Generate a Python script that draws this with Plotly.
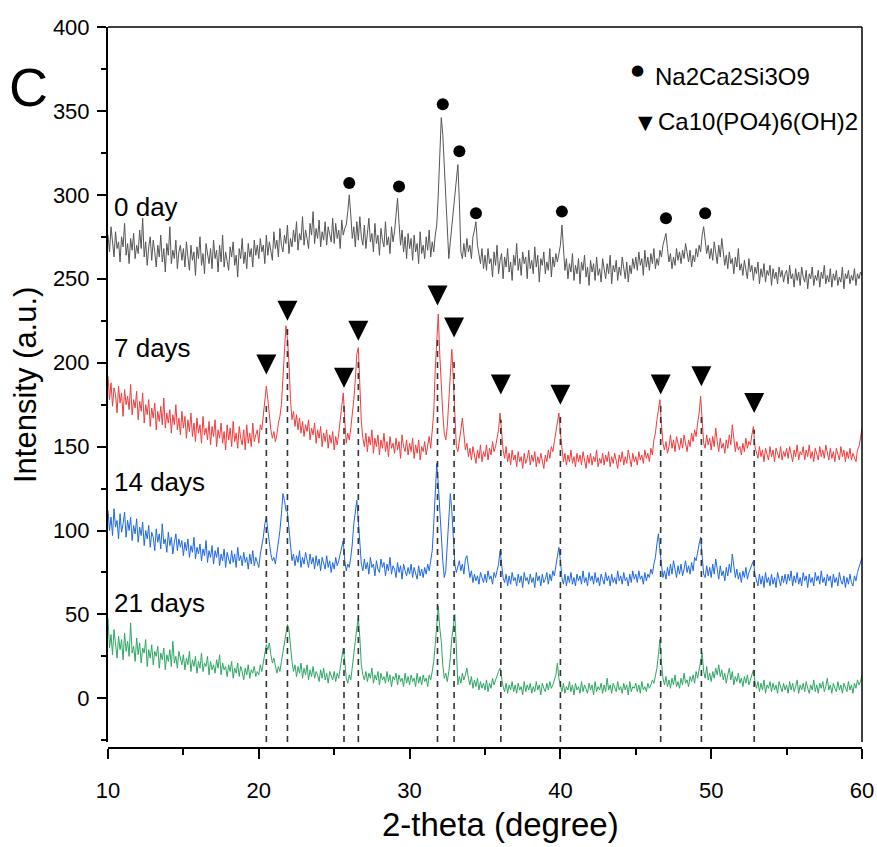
import numpy as np
import plotly.graph_objects as go

# 2-theta scan grid (degree), 0.1 step
two_theta = np.round(np.arange(10.0, 60.0001, 0.1), 1)

day0 = [
 276,266,281,270,263,278,268,272,260,275, 269,283,264,271,259,274,267,277,262,270, 265,279,268,286,263,272,258,269,275,261, 273,266,257,270,263,276,260,268,254,271, 264,281,259,267,262,273,256,266,270,261,
 268,257,272,263,255,270,261,266,252,269, 262,275,258,265,253,271,264,259,268,256, 273,262,267,254,270,260,276,257,266,261, 255,269,263,272,258,264,251,268,262,274, 259,266,256,271,263,268,257,273,264,270,
 262,274,266,270,259,276,264,272,267,261, 278,268,273,263,280,270,266,276,271,282, 265,274,269,279,272,284,267,277,273,287, 270,279,274,268,283,276,290,271,280,274, 285,269,278,273,284,270,281,276,272,286,
 271,283,274,279,268,285,276,280,282,290, 300,288,274,281,269,284,273,287,275,270, 282,268,279,286,272,277,266,283,271,276, 264,280,273,269,284,270,275,265,281,272, 278,286,298,283,270,279,266,275,262,277,
 268,274,261,276,266,271,259,278,265,270, 262,275,267,279,263,272,266,276,282,300, 330,346,336,318,300,276,262,272,281,290, 301,312,318,296,266,262,271,263,274,266, 270,262,275,279,284,270,264,259,268,256,
 264,255,268,259,262,251,266,258,270,253, 261,265,250,263,257,268,254,260,249,264, 258,271,255,262,252,266,259,263,250,267, 256,261,253,269,257,264,248,262,258,266, 253,260,255,268,251,263,257,265,260,266,
 270,282,268,255,262,250,259,254,265,249, 258,253,262,247,260,255,264,251,257,246, 261,254,259,249,263,252,256,248,262,255, 250,259,253,264,247,258,254,261,249,257, 252,263,255,250,260,248,258,253,262,256,
 263,255,266,258,262,252,267,257,263,255, 265,259,268,256,262,258,267,263,270,274, 277,268,260,265,256,263,258,268,261,266, 259,267,262,271,264,260,267,257,264,260, 268,263,270,266,276,281,273,265,270,262,
 268,261,272,265,259,270,263,274,266,258, 264,256,266,259,262,253,263,257,268,255, 259,252,261,256,250,262,254,258,249,257, 253,260,247,256,251,259,248,255,252,258, 246,256,250,254,247,257,251,255,248,253,
 255,247,258,250,253,245,256,249,254,246, 257,251,248,255,244,253,250,257,246,252, 249,255,245,254,250,258,247,252,248,256, 245,253,249,255,246,251,248,257,244,253, 250,255,247,252,249,256,246,253,250,254,
 252]

day7 = [
 192,178,188,174,185,181,170,186,176,182, 168,184,175,180,172,187,169,178,173,183, 166,177,171,182,164,175,169,178,162,173, 167,176,160,171,165,174,163,179,161,170, 164,172,158,169,163,175,160,167,157,171,
 161,168,155,166,159,170,156,164,153,167, 158,163,152,168,157,161,154,165,151,162, 156,166,150,160,155,164,152,159,148,163, 154,161,150,165,153,158,149,162,155,151, 160,148,163,152,158,150,164,153,157,160,
 152,163,160,168,180,186,178,166,160,155, 159,153,157,164,168,175,190,206,222,214, 200,178,166,171,162,169,160,167,158,165, 156,163,159,166,154,161,157,164,152,160, 155,162,150,158,153,160,149,157,152,159,
 148,156,151,158,165,175,182,166,152,158, 154,161,168,178,190,205,209,185,165,155, 150,158,147,156,151,160,146,155,150,157, 145,154,149,158,147,153,144,156,149,152, 146,155,148,153,143,157,150,147,154,145,
 152,147,155,143,151,146,154,142,150,147, 153,145,151,156,149,158,170,196,216,229, 205,186,170,158,154,162,178,196,208,190, 165,150,147,155,160,167,156,148,152,144, 149,142,150,145,140,148,143,151,141,147,
 144,151,142,149,145,153,147,150,156,160, 170,158,148,143,150,141,146,139,148,142, 145,138,147,141,144,137,146,140,143,148, 139,145,141,147,138,144,140,146,142,137, 145,141,148,143,150,147,153,158,164,170,
 158,147,141,146,139,145,141,148,140,144, 138,146,141,145,139,147,142,137,145,140, 146,139,144,141,148,138,143,140,146,139, 145,141,147,138,144,140,146,142,137,145, 141,147,139,144,140,148,142,138,146,141,
 144,139,147,142,145,140,148,143,146,141, 149,145,154,158,166,172,178,163,152,148, 153,146,150,157,149,154,147,156,151,148, 155,149,157,152,147,154,150,158,153,160, 156,164,170,180,168,152,149,157,151,155,
 148,156,150,161,153,147,155,149,152,146, 154,149,157,151,163,155,147,153,148,150, 145,152,147,155,149,153,151,157,162,150, 146,143,150,144,148,141,149,145,142,150, 144,148,141,149,145,143,150,142,147,144,
 149,143,150,145,141,148,144,151,142,147, 145,150,142,148,144,151,143,147,141,149, 146,142,150,144,148,143,151,145,142,149, 143,147,141,149,145,142,150,144,148,141, 147,143,149,142,146,144,141,148,150,155,
 161]

day14 = [
 112,100,108,97,113,102,106,95,110,99, 104,111,96,106,100,108,94,103,98,107, 93,102,97,105,91,100,95,103,90,99, 96,88,101,93,98,89,104,92,95,87, 99,91,96,86,93,98,88,95,90,94,
 85,93,88,95,84,91,87,96,83,90, 86,92,82,89,85,94,81,88,84,91, 80,88,84,90,79,86,82,89,78,87, 83,80,88,81,86,78,90,82,85,79, 87,81,84,77,86,80,88,79,84,81,
 78,86,90,96,104,108,100,92,86,82, 84,80,86,92,100,110,122,118,112,111, 100,88,82,86,79,85,81,88,78,84, 80,87,82,78,86,80,84,77,85,79, 83,76,84,80,77,85,78,82,75,81,
 77,84,79,82,86,90,94,82,76,80, 78,84,92,104,112,118,106,90,80,76, 83,77,81,74,84,78,80,73,82,77, 75,83,78,81,73,80,76,84,74,79, 77,72,81,75,79,71,80,76,73,78,
 74,80,72,78,75,71,79,73,77,72, 78,74,80,76,82,88,104,124,140,128, 110,95,82,72,76,92,108,122,112,96, 80,75,78,82,76,80,74,83,85,77, 72,76,69,74,70,73,68,75,71,69,
 74,69,76,71,73,68,75,72,76,80, 88,79,72,69,74,67,73,68,75,70, 72,67,74,69,73,66,75,70,72,68, 74,69,72,66,75,70,73,67,74,69, 71,75,68,74,70,76,73,79,84,90,
 82,72,68,74,67,73,69,75,68,72, 67,74,70,73,68,76,69,72,67,75, 70,73,68,75,69,72,67,74,71,68, 75,70,73,67,74,69,72,68,76,70, 73,68,75,70,72,67,74,69,76,71,
 74,69,76,71,73,68,75,70,74,72, 77,74,80,84,92,98,88,78,72,76, 71,78,73,80,74,82,76,72,79,74, 80,73,77,82,75,79,74,81,76,84, 82,88,92,96,86,74,72,79,73,78,
 72,80,74,83,77,71,79,73,76,70, 78,73,80,75,86,79,72,77,71,75, 69,76,72,78,71,75,77,80,82,74, 70,67,74,68,73,66,75,69,72,67, 74,68,72,66,75,70,67,73,69,74,
 68,74,70,76,67,73,69,75,68,72, 67,75,70,73,66,74,69,72,67,75, 70,73,68,76,69,72,67,74,70,73, 66,74,69,72,67,75,70,68,73,66, 72,68,74,69,67,73,70,75,78,82,
 84]

day21 = [
 48,30,38,26,41,33,24,37,29,35, 23,39,28,34,25,45,27,31,22,36, 26,33,21,30,27,35,19,29,24,32, 20,28,25,31,18,27,23,30,17,26, 22,29,19,34,21,25,18,28,23,20,
 26,17,24,20,28,16,23,19,25,15, 22,18,27,16,21,19,25,14,22,17, 20,15,23,18,26,14,21,17,19,13, 20,16,22,12,18,15,21,13,19,16, 11,18,14,20,12,17,15,19,13,16,
 14,20,16,22,27,32,29,33,26,21, 24,18,15,19,16,22,28,35,40,44, 41,30,22,16,20,13,19,15,21,12, 18,14,20,11,17,13,19,12,16,14, 10,17,12,18,11,15,9,16,13,11,
 16,10,15,12,18,24,30,22,12,9, 14,11,18,24,34,42,48,36,20,14, 11,16,10,15,12,18,9,14,11,16, 8,15,11,13,9,16,10,14,7,13, 11,15,8,14,10,12,7,15,9,13,
 8,14,10,12,7,15,9,13,8,14, 10,12,7,14,11,16,22,32,46,55, 42,34,20,12,15,10,16,24,36,44, 50,30,8,13,9,15,11,14,18,12, 8,13,6,11,7,12,5,10,6,9,
 5,11,4,9,6,12,8,11,14,16, 18,12,7,4,9,3,8,5,10,4, 8,3,9,5,7,2,10,4,8,5, 9,3,7,4,10,5,8,2,9,6, 4,9,5,10,6,8,11,14,21,12,
 8,4,9,3,7,5,10,4,8,2, 9,5,7,3,10,4,8,6,3,9, 5,8,2,10,4,7,5,9,3,8, 4,12,5,8,3,9,6,4,10,5, 7,3,9,5,8,2,10,4,7,6,
 9,4,8,3,10,5,7,4,9,6, 8,11,9,13,18,26,35,22,12,8, 13,7,11,6,12,8,14,7,10,6, 12,8,15,9,11,7,13,10,14,9, 16,12,18,22,27,16,12,19,11,15,
 10,16,12,18,14,20,13,17,11,15, 9,14,18,11,16,8,13,10,15,9, 12,7,13,9,14,8,11,15,17,10, 6,10,4,9,5,11,3,8,6,10, 4,9,5,8,3,10,6,4,9,5,
 8,3,10,5,9,4,7,11,3,8, 5,9,4,10,6,3,8,5,11,4, 8,3,9,6,10,4,7,12,5,8, 3,9,6,4,10,5,8,3,9,6, 4,10,5,8,3,9,6,11,8,10,
 14]

series_names = ["0 day", "7 days", "14 days", "21 days"]
series_values = [day0, day7, day14, day21]
series_colors = ["#555555", "#f03c3c", "#1f68df", "#2ea665"]
label_y = [293, 209, 129, 57]

# Na2Ca2Si3O9 peak marks (0 day)
silicate_x = [26.0, 29.3, 32.2, 33.3, 34.4, 40.1, 47.0, 49.6]
silicate_y = [307, 305, 354, 326, 289, 290, 286, 289]

# Ca10(PO4)6(OH)2 peak marks (triangle tips) and reference lines
hap_x = [20.5, 21.9, 25.65, 26.6, 31.85, 32.95, 36.05, 40.0, 46.65, 49.35, 52.85]
hap_y = [193, 225, 185, 213, 234, 215, 181, 175, 181, 186, 170]
hap_line_top = [176, 222, 177, 201, 214, 201, 166, 168, 177, 170, 160]

n = len(two_theta)
series_values = [v[:n] + [v[-1]] * (n - len(v)) for v in series_values]

fig = go.Figure()

for name, vals, col in zip(series_names, series_values, series_colors):
    fig.add_trace(go.Scatter(x=two_theta, y=vals, mode="lines", name=name,
                             line=dict(color=col, width=1), showlegend=False))

fig.add_trace(go.Scatter(x=silicate_x, y=silicate_y, mode="markers", name="Na2Ca2Si3O9",
                         marker=dict(symbol="circle", size=12, color="black"), showlegend=False))
fig.add_trace(go.Scatter(x=hap_x, y=hap_y, mode="markers", name="Ca10(PO4)6(OH)2",
                         marker=dict(symbol="arrow-down", size=20, color="black",
                                     line=dict(width=0)), showlegend=False))

for xv, top in zip(hap_x, hap_line_top):
    fig.add_shape(type="line", x0=xv, x1=xv, y0=-26, y1=top, xref="x", yref="y",
                  line=dict(color="#333333", width=1.6, dash="6px,5px"), layer="above")

# frame top and right
fig.add_shape(type="line", xref="x domain", yref="y domain", x0=0, x1=1, y0=1, y1=1,
              line=dict(color="black", width=1.5))
fig.add_shape(type="line", xref="x domain", yref="y domain", x0=1, x1=1, y0=0, y1=1,
              line=dict(color="black", width=1.5))

font_family = "Liberation Sans, Arial, sans-serif"

for name, yv in zip(series_names, label_y):
    fig.add_annotation(x=10.25, y=yv, xref="x", yref="y", text=name, showarrow=False,
                       xanchor="left", yanchor="middle",
                       font=dict(family=font_family, size=26, color="black"))

W, H = 877, 847
pl, pr, pt, pb = 108, 15, 27, 99
def px2paper(xp, yp):
    return (xp - pl) / (W - pl - pr), 1 - (yp - pt) / (H - pt - pb)

fig.update_layout(
    width=W, height=H,
    margin=dict(l=pl, r=pr, t=pt, b=pb),
    plot_bgcolor="white", paper_bgcolor="white",
    font=dict(family=font_family, color="black"),
    showlegend=False,
    xaxis=dict(range=[10, 60], anchor="free", position=0, showline=True, linecolor="black",
               linewidth=2, ticks="outside", ticklen=10, tickwidth=2, tickcolor="black",
               dtick=10, tick0=10, showgrid=False, zeroline=False, automargin=False,
               ticklabelstandoff=13,
               minor=dict(ticks="outside", dtick=5, ticklen=6, tickwidth=1.5, tickcolor="black"),
               tickfont=dict(size=22, family=font_family)),
    yaxis=dict(range=[-26, 400], domain=[6/721, 1], showline=True, linecolor="black",
               linewidth=2, ticks="outside", ticklen=9, tickwidth=2, tickcolor="black",
               dtick=50, tick0=0, showgrid=False, zeroline=False, automargin=False,
               ticklabelstandoff=3,
               minor=dict(ticks="outside", dtick=25, ticklen=5, tickwidth=1.5, tickcolor="black"),
               tickfont=dict(size=22, family=font_family)),
)

# axis titles
ax, ay = px2paper(500, 824)
fig.add_annotation(x=ax, y=ay, xref="paper", yref="paper", text="2-theta (degree)", showarrow=False,
                   xanchor="center", yanchor="middle", font=dict(size=33, color="black", family=font_family))
ax, ay = px2paper(25, 385)
fig.add_annotation(x=ax, y=ay, xref="paper", yref="paper", text="Intensity (a.u.)", showarrow=False,
                   textangle=-90, xanchor="center", yanchor="middle",
                   font=dict(size=31, color="black", family=font_family))

# legend symbols and labels
lx, ly = px2paper(637, 70)
fig.add_annotation(x=lx, y=ly, xref="paper", yref="paper", text="●", showarrow=False,
                   xanchor="center", yanchor="middle", font=dict(size=15, color="black", family="DejaVu Sans"))
lx, ly = px2paper(653, 77)
fig.add_annotation(x=lx, y=ly, xref="paper", yref="paper", text="Na2Ca2Si3O9", showarrow=False,
                   xanchor="left", yanchor="middle", font=dict(size=24, color="black", family=font_family))
lx, ly = px2paper(645, 122)
fig.add_annotation(x=lx, y=ly, xref="paper", yref="paper", text="▼", showarrow=False,
                   xanchor="center", yanchor="middle", font=dict(size=19, color="black", family="DejaVu Sans"))
lx, ly = px2paper(656, 122)
fig.add_annotation(x=lx, y=ly, xref="paper", yref="paper", text="Ca10(PO4)6(OH)2", showarrow=False,
                   xanchor="left", yanchor="middle", font=dict(size=24, color="black", family=font_family))

# panel letter
lx, ly = px2paper(28, 87)
fig.add_annotation(x=lx, y=ly, xref="paper", yref="paper", text="C", showarrow=False,
                   xanchor="center", yanchor="middle", font=dict(size=54, color="black", family=font_family))

fig.write_html("out.html")
